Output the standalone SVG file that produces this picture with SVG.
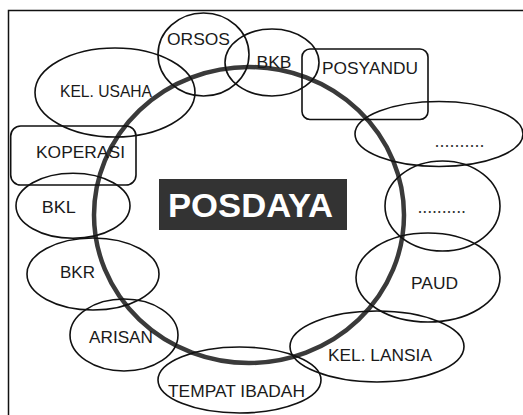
<svg xmlns="http://www.w3.org/2000/svg" width="523" height="415" viewBox="0 0 523 415">
<style>
.sh{fill:none;stroke:#111;stroke-width:1.6}
.t{font-family:"Liberation Sans",Arial,sans-serif;fill:#1a1a1a;font-size:17px}
.dots{font-family:"Liberation Sans",Arial,sans-serif;fill:#333;font-size:18px}
</style>
<rect width="523" height="415" fill="#fff"/>
<path d="M8.5,415 V10.5 H523" fill="none" stroke="#111" stroke-width="1.5"/>
<g id="connectors">
<ellipse cx="249" cy="215" rx="155" ry="148" fill="none" stroke="#3a3a3a" stroke-width="4.5"/>
</g>
<g id="posdaya">
<rect x="159" y="179" width="188" height="51" fill="#333"/>
<text x="250.5" y="216.5" text-anchor="middle" font-family="'Liberation Sans',Arial,sans-serif" font-weight="bold" font-size="33" fill="#fff" textLength="165" lengthAdjust="spacingAndGlyphs">POSDAYA</text>
</g>
<g id="orsos"><ellipse class="sh" cx="203.5" cy="54.5" rx="45.5" ry="41.5"/><text class="t" x="167" y="45" textLength="63" lengthAdjust="spacingAndGlyphs">ORSOS</text></g>
<g id="bkb"><ellipse class="sh" cx="272" cy="62.5" rx="47" ry="33.5"/><text class="t" x="256.5" y="67.7" font-size="16" textLength="35" lengthAdjust="spacingAndGlyphs">BKB</text></g>
<g id="posyandu"><rect class="sh" x="302" y="49" width="126" height="70.5" rx="8"/><text class="t" x="322" y="74" textLength="96" lengthAdjust="spacingAndGlyphs">POSYANDU</text></g>
<g id="kelusaha"><ellipse class="sh" cx="115" cy="92.5" rx="80" ry="44.5"/><text class="t" x="60" y="97" font-size="16" textLength="92" lengthAdjust="spacingAndGlyphs">KEL. USAHA</text></g>
<g id="dots1"><ellipse class="sh" cx="439" cy="134" rx="84" ry="32.5"/><text class="dots" x="434.5" y="147" textLength="50" lengthAdjust="spacing">..........</text></g>
<g id="koperasi"><rect class="sh" x="10.7" y="126" width="125.3" height="59" rx="10"/><text class="t" x="36" y="158.3" textLength="89" lengthAdjust="spacingAndGlyphs">KOPERASI</text></g>
<g id="bkl"><ellipse class="sh" cx="73" cy="205.7" rx="57" ry="32.5"/><text class="t" x="41.7" y="212.7" font-size="17.5" textLength="34" lengthAdjust="spacingAndGlyphs">BKL</text></g>
<g id="dots2"><ellipse class="sh" cx="442.5" cy="206" rx="57.5" ry="45"/><text class="dots" x="417.5" y="212.5" textLength="48.5" lengthAdjust="spacing">..........</text></g>
<g id="bkr"><ellipse class="sh" cx="93" cy="274" rx="66" ry="36"/><text class="t" x="60" y="278" textLength="35" lengthAdjust="spacingAndGlyphs">BKR</text></g>
<g id="paud"><ellipse class="sh" cx="428" cy="277.5" rx="72" ry="44.5"/><text class="t" x="411" y="289" textLength="47" lengthAdjust="spacingAndGlyphs">PAUD</text></g>
<g id="arisan"><ellipse class="sh" cx="124" cy="335" rx="54" ry="36"/><text class="t" x="89" y="343" font-size="16.5" textLength="64" lengthAdjust="spacingAndGlyphs">ARISAN</text></g>
<g id="kellansia"><ellipse class="sh" cx="377" cy="346.5" rx="87" ry="35.5"/><text class="t" x="328" y="361" font-size="17.5" textLength="104" lengthAdjust="spacingAndGlyphs">KEL. LANSIA</text></g>
<g id="tempatibadah"><ellipse class="sh" cx="239.5" cy="380" rx="81.5" ry="33"/><text class="t" x="168" y="396.7" font-size="17.5" textLength="137" lengthAdjust="spacingAndGlyphs">TEMPAT IBADAH</text></g>
</svg>
